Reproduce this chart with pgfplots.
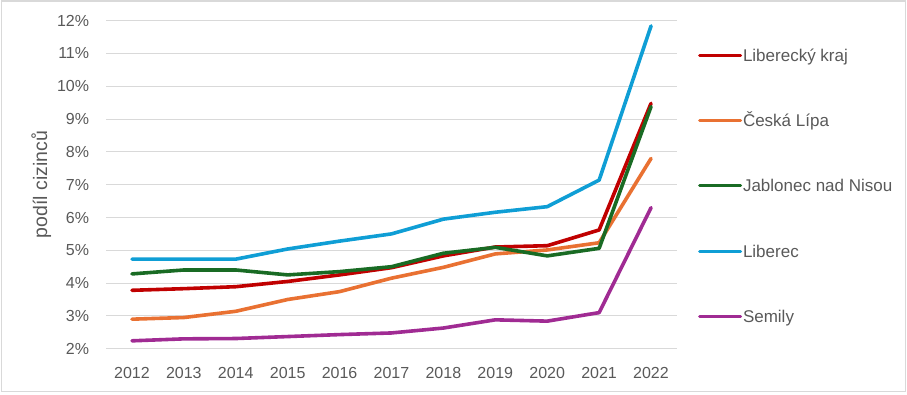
\documentclass[border=0pt]{standalone}
\usepackage{pgfplots}
\pgfplotsset{compat=1.18}
\usepackage{fontspec}
\setmainfont{Liberation Sans}
\definecolor{txt}{HTML}{595959}
\definecolor{grd}{HTML}{D9D9D9}
\definecolor{cKraj}{HTML}{C00000}
\definecolor{cCL}{HTML}{E97132}
\definecolor{cJN}{HTML}{196B24}
\definecolor{cLB}{HTML}{0F9ED5}
\definecolor{cSM}{HTML}{A02B93}
\begin{document}
\begin{tikzpicture}
\useasboundingbox (0,0) rectangle (907pt,395pt);
\draw[grd, line width=1.2pt] (1.5pt,3.3pt) rectangle (905.5pt,394pt);
\begin{axis}[
  at={(106pt,46.3pt)}, anchor=south west,
  scale only axis, width=571pt, height=328pt,
  xmin=2011.5, xmax=2022.5, ymin=2, ymax=12,
  axis line style={draw=none},
  major tick length=0pt,
  xtick={2012,...,2022},
  xticklabels={2012,2013,2014,2015,2016,2017,2018,2019,2020,2021,2022},
  ytick={2,...,12},
  yticklabels={2\%,3\%,4\%,5\%,6\%,7\%,8\%,9\%,10\%,11\%,12\%},
  ymajorgrids, grid style={grd, line width=1.1pt},
  tick label style={font=\fontsize{16}{18}\selectfont, text=txt},
  yticklabel style={inner sep=0pt, anchor=east, xshift=-16.7pt},
  xticklabel style={inner sep=0pt, anchor=north, yshift=-18pt, text height=11.7pt},
  ylabel={podíl cizinců},
  ylabel style={font=\fontsize{19.5}{22}\selectfont, text=txt, at={(axis description cs:-0.1135,0.5)}, anchor=center},
  legend style={draw=none, fill=none, inner sep=0pt, outer sep=0pt,
    at={(1.0368,0.9128)}, anchor=north west,
    font=\fontsize{17}{19}\selectfont, text=txt,
    row sep=53.4pt, column sep=1pt,
    nodes={inner sep=0pt, text height=11.9pt, text depth=0pt}},
  legend cell align=left,
  legend image code/.code={\draw[#1, line width=3pt, line cap=round] (0pt,0pt) -- (41pt,0pt);},
  every axis plot/.append style={line width=3.6pt, line join=round, line cap=round, mark=none},
]
\addplot[cKraj] coordinates {(2012,3.78) (2013,3.83) (2014,3.89) (2015,4.05) (2016,4.25) (2017,4.47) (2018,4.83) (2019,5.10) (2020,5.14) (2021,5.62) (2022,9.48)};
\addlegendentry{Liberecký kraj}
\addplot[cCL] coordinates {(2012,2.90) (2013,2.95) (2014,3.14) (2015,3.50) (2016,3.74) (2017,4.15) (2018,4.48) (2019,4.89) (2020,5.01) (2021,5.23) (2022,7.80)};
\addlegendentry{Česká Lípa}
\addplot[cJN] coordinates {(2012,4.28) (2013,4.40) (2014,4.40) (2015,4.25) (2016,4.35) (2017,4.50) (2018,4.91) (2019,5.09) (2020,4.83) (2021,5.06) (2022,9.38)};
\addlegendentry{Jablonec nad Nisou}
\addplot[cLB] coordinates {(2012,4.73) (2013,4.73) (2014,4.73) (2015,5.04) (2016,5.28) (2017,5.50) (2018,5.95) (2019,6.16) (2020,6.33) (2021,7.14) (2022,11.84)};
\addlegendentry{Liberec}
\addplot[cSM] coordinates {(2012,2.24) (2013,2.30) (2014,2.31) (2015,2.37) (2016,2.43) (2017,2.48) (2018,2.63) (2019,2.88) (2020,2.84) (2021,3.10) (2022,6.30)};
\addlegendentry{Semily}
\end{axis}
\end{tikzpicture}
\end{document}
